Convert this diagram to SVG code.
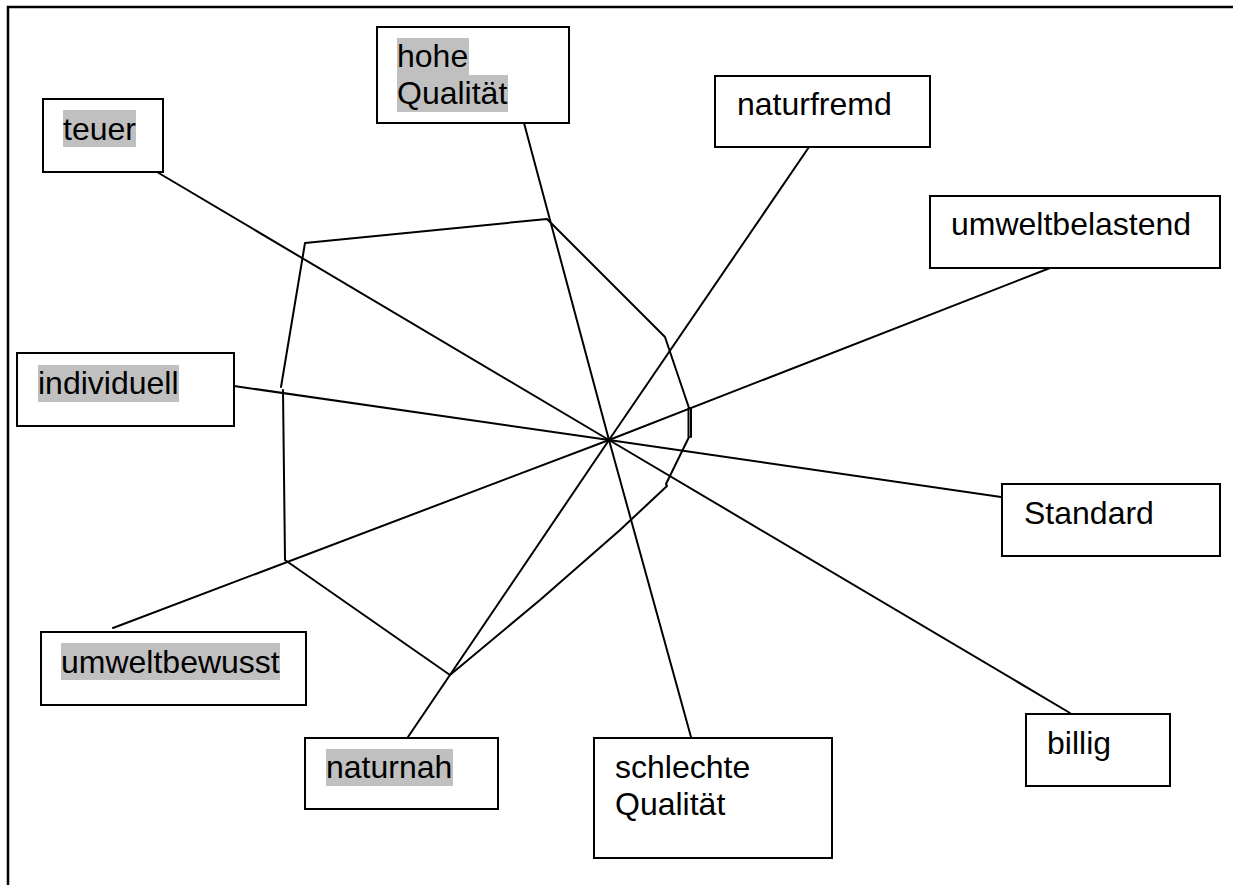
<svg xmlns="http://www.w3.org/2000/svg" width="1233" height="885" viewBox="0 0 1233 885">
<style>
.box{fill:#fff;stroke:#000;stroke-width:2}
.hl{fill:#c0c0c0}
.t{font-family:"Liberation Sans",Arial,sans-serif;font-size:32px;fill:#000}
.ln{stroke:#000;stroke-width:2;fill:none;stroke-linecap:round;stroke-linejoin:round}
.frame{stroke:#000;stroke-width:2.5;fill:none}
</style>
<rect width="1233" height="885" fill="#fff"/>
<path class="frame" d="M8,885 V7 H1233"/>
<g id="connectors">
<line class="ln" x1="157" y1="172" x2="609" y2="440"/>
<line class="ln" x1="524" y1="123" x2="609" y2="440"/>
<line class="ln" x1="809" y1="147" x2="609" y2="440"/>
<line class="ln" x1="1050" y1="268" x2="609" y2="440"/>
<line class="ln" x1="234" y1="386" x2="609" y2="440"/>
<line class="ln" x1="1001" y1="497" x2="609" y2="440"/>
<line class="ln" x1="113" y1="628" x2="609" y2="440"/>
<line class="ln" x1="408" y1="737" x2="609" y2="440"/>
<line class="ln" x1="691" y1="737" x2="609" y2="440"/>
<line class="ln" x1="1070" y1="713" x2="609" y2="440"/>
<path class="ln" d="M281,387 L305,243 L547,219 L665,337 L666,340 L689,408 M688.5,408 V437 M691,408 V437 M689,437 L666,484 L667,486 L620,530 L540,600 L450,675 L285,560 L283,390"/>
</g>
<g id="node-teuer"><rect class="box" x="43" y="99" width="120" height="73"/><rect class="hl" x="63" y="110" width="73" height="37"/><text class="t" x="63" y="140">teuer</text></g>
<g id="node-hohe-qualitaet"><rect class="box" x="377" y="27" width="192" height="96"/><rect class="hl" x="397" y="38" width="72" height="37"/><rect class="hl" x="397" y="75" width="111" height="37"/><text class="t" x="397" y="67">hohe</text><text class="t" x="397" y="104">Qualität</text></g>
<g id="node-naturfremd"><rect class="box" x="715" y="76" width="215" height="71"/><text class="t" x="737" y="115">naturfremd</text></g>
<g id="node-umweltbelastend"><rect class="box" x="930" y="196" width="290" height="72"/><text class="t" x="951" y="235">umweltbelastend</text></g>
<g id="node-individuell"><rect class="box" x="17" y="353" width="217" height="73"/><rect class="hl" x="38" y="365" width="141" height="37"/><text class="t" x="38" y="394">individuell</text></g>
<g id="node-standard"><rect class="box" x="1002" y="484" width="218" height="72"/><text class="t" x="1024" y="524">Standard</text></g>
<g id="node-umweltbewusst"><rect class="box" x="41" y="632" width="265" height="73"/><rect class="hl" x="61" y="643" width="219" height="37"/><text class="t" x="61" y="673">umweltbewusst</text></g>
<g id="node-naturnah"><rect class="box" x="305" y="738" width="193" height="71"/><rect class="hl" x="326" y="749" width="127" height="37"/><text class="t" x="326" y="778">naturnah</text></g>
<g id="node-schlechte-qualitaet"><rect class="box" x="594" y="738" width="238" height="120"/><text class="t" x="615" y="778">schlechte</text><text class="t" x="615" y="815">Qualität</text></g>
<g id="node-billig"><rect class="box" x="1026" y="714" width="144" height="72"/><text class="t" x="1047" y="754">billig</text></g>
</svg>
